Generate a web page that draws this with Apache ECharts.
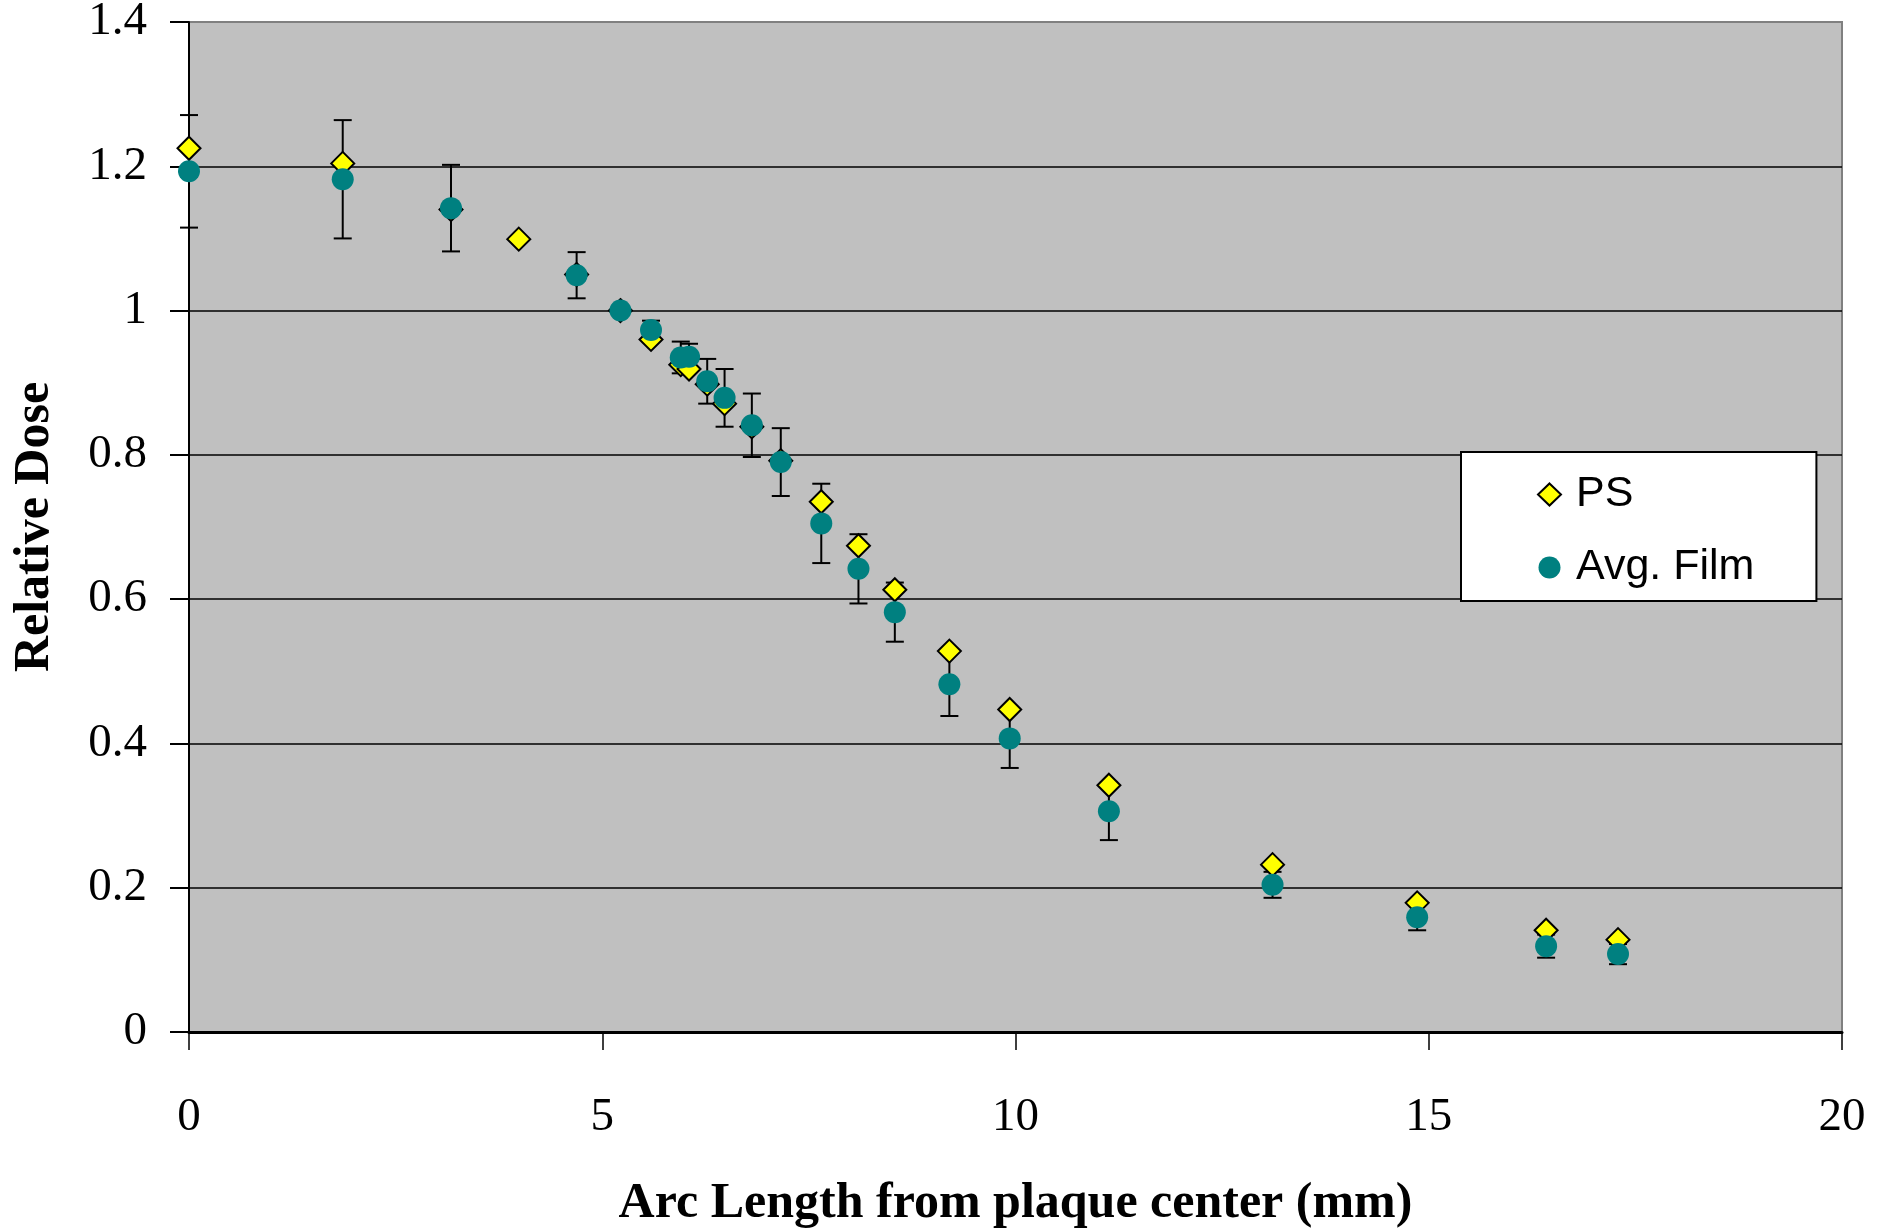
<!DOCTYPE html>
<html>
<head>
<meta charset="utf-8">
<script src="https://cdn.jsdelivr.net/npm/echarts@6/dist/echarts.min.js"></script>
<style>
  html, body { margin: 0; padding: 0; background: #fff; }
  #chart { width: 1887px; height: 1231px; }
</style>
</head>
<body>
<div id="chart"></div>
<script>
// arc length (mm) for each measurement position
const arcLength = [0, 1.86, 3.17, 3.99, 4.69, 5.22, 5.59, 5.95, 6.05, 6.27, 6.48, 6.81, 7.16, 7.65, 8.10, 8.54, 9.20, 9.93, 11.13, 13.11, 14.86, 16.42, 17.29];

// PS (calculated) relative dose
const psDose = [1.225, 1.204, 1.14, 1.099, 1.05, 1.0, 0.96, 0.925, 0.919, 0.898, 0.871, 0.839, 0.792, 0.735, 0.674, 0.613, 0.528, 0.447, 0.342, 0.232, 0.179, 0.141, 0.128];

// film average + half-width of error bar (null = no film reading)
const filmDose = [1.193, 1.182, 1.142, null, 1.049, 1.0, 0.973, 0.935, 0.936, 0.902, 0.879, 0.841, 0.790, 0.705, 0.642, 0.582, 0.482, 0.407, 0.306, 0.204, 0.159, 0.119, 0.108];
const filmErr = [0.078, 0.082, 0.06, null, 0.032, 0, 0.013, 0.022, 0.018, 0.031, 0.04, 0.044, 0.047, 0.055, 0.048, 0.041, 0.044, 0.041, 0.04, 0.018, 0.018, 0.016, 0.014];

const xRange = [0, 20, 5];
const yRange = [0, 1.4, 0.2];

const psPoints = arcLength.map((x, i) => [x, psDose[i]]);
const filmPoints = arcLength.map((x, i) => [x, filmDose[i]]).filter(p => p[1] != null);
const errPoints = arcLength
  .map((x, i) => filmDose[i] == null ? null : [x, filmDose[i] - filmErr[i], filmDose[i] + filmErr[i]])
  .filter(p => p && p[2] > p[1]);

// error bar: vertical line with caps
function renderErrorBar(params, api) {
  const x = api.value(0);
  const lo = api.coord([x, api.value(1)]);
  const hi = api.coord([x, api.value(2)]);
  const half = 9;
  const style = { stroke: '#000', lineWidth: 2 };
  return {
    type: 'group',
    children: [
      { type: 'line', shape: { x1: hi[0], y1: hi[1], x2: lo[0], y2: lo[1] }, style },
      { type: 'line', shape: { x1: hi[0] - half, y1: hi[1], x2: hi[0] + half, y2: hi[1] }, style },
      { type: 'line', shape: { x1: lo[0] - half, y1: lo[1], x2: lo[0] + half, y2: lo[1] }, style }
    ]
  };
}

const tickFont = { fontFamily: 'Liberation Serif', fontSize: 47, color: '#000' };
const nameFont = { fontFamily: 'Liberation Serif', fontSize: 50, fontWeight: 'bold', color: '#000' };

const chart = echarts.init(document.getElementById('chart'));

chart.setOption({
  backgroundColor: '#fff',
  animation: false,
  grid: {
    left: 189, right: 45, top: 22, bottom: 199,
    outerBoundsMode: 'none',
    show: true,
    backgroundColor: '#C0C0C0',
    borderColor: '#808080',
    borderWidth: 2
  },
  legend: {
    data: ['PS', 'Avg. Film'],
    orient: 'vertical',
    left: 1461,
    top: 452,
    itemWidth: 23,
    itemHeight: 22,
    itemGap: 30,
    padding: [21, 62, 12, 76],
    backgroundColor: '#fff',
    borderColor: '#000',
    borderWidth: 2,
    textStyle: { fontFamily: 'Liberation Sans', fontSize: 43, color: '#000', padding: [0, 0, 0, 10] }
  },
  xAxis: {
    type: 'value',
    min: xRange[0], max: xRange[1], interval: xRange[2],
    name: 'Arc Length from plaque center (mm)',
    nameLocation: 'middle',
    nameGap: 147,
    nameTextStyle: nameFont,
    axisLine: { lineStyle: { color: '#000', width: 3 } },
    axisTick: { inside: false, length: 18, lineStyle: { color: '#000', width: 1.5 } },
    axisLabel: Object.assign({ margin: 62 }, tickFont),
    splitLine: { show: false }
  },
  yAxis: {
    type: 'value',
    min: yRange[0], max: yRange[1], interval: yRange[2],
    name: 'Relative Dose',
    nameLocation: 'middle',
    nameRotate: 90,
    nameGap: 129,
    nameTextStyle: nameFont,
    axisLine: { lineStyle: { color: '#000', width: 2 } },
    axisTick: { inside: false, length: 19, lineStyle: { color: '#000', width: 2 } },
    axisLabel: Object.assign({ margin: 42 }, tickFont),
    splitLine: { show: true, showMaxLine: false, lineStyle: { color: '#000', width: 1.5 } }
  },
  series: [
    {
      name: 'err',
      type: 'custom',
      renderItem: renderErrorBar,
      encode: { x: 0, y: [1, 2] },
      data: errPoints,
      z: 1
    },
    {
      name: 'PS',
      type: 'scatter',
      symbol: 'diamond',
      symbolSize: 23,
      itemStyle: { color: '#FFFF00', borderColor: '#000', borderWidth: 2, opacity: 1 },
      data: psPoints,
      z: 2
    },
    {
      name: 'Avg. Film',
      type: 'scatter',
      symbol: 'circle',
      symbolSize: 22,
      itemStyle: { color: '#008080', opacity: 1 },
      data: filmPoints,
      z: 3
    }
  ]
});
</script>
</body>
</html>
